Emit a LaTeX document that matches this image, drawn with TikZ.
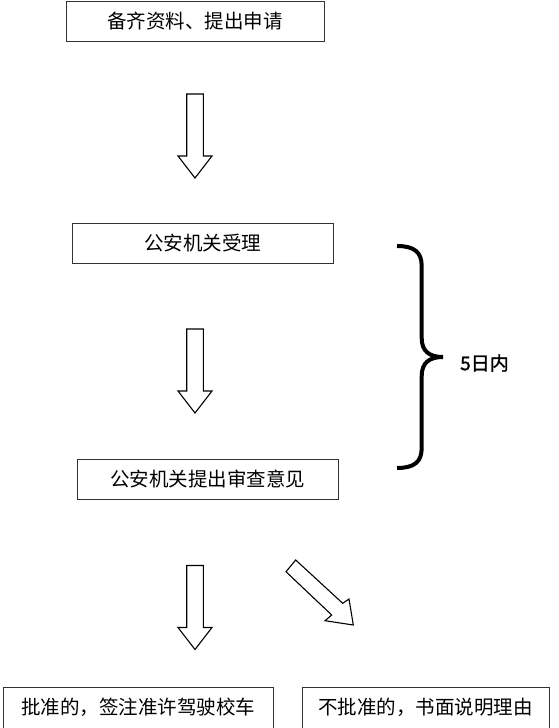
\documentclass[tikz,border=0pt]{standalone}
\usepackage{fontspec}
\setmainfont{Noto Sans CJK SC}
\newfontfamily\daysfont[FakeBold=1.3]{Noto Sans CJK SC}
\begin{document}
\begin{tikzpicture}[x=1pt,y=-1pt,
  stepbox/.style={draw=black!80,line width=0.9pt,inner sep=0pt,minimum height=40pt,
    font=\fontsize{19.5}{22}\selectfont},
  blockarrow/.style={draw=black,line width=1.1pt,fill=white,line join=miter},
  downarrow/.pic={\draw[blockarrow] (-8.3,0) -- (8.3,0) -- (8.3,62) -- (17,62) -- (0,84) -- (-17,62) -- (-8.3,62) -- cycle;},
  bracestyle/.style={draw=black,line width=4pt}
]
\useasboundingbox (0,0) rectangle (558,728);
\node[stepbox,minimum width=258pt] (b1) at (195,21) {备齐资料、提出申请};
\node[stepbox,minimum width=261pt] (b2) at (202.5,243.3) {公安机关受理};
\node[stepbox,minimum width=261pt] (b3) at (207.8,479.3) {公安机关提出审查意见};
\node[stepbox,minimum width=270pt,minimum height=41pt] (b4) at (138,707.5) {批准的，签注准许驾驶校车};
\node[stepbox,minimum width=247pt,minimum height=41pt] (b5) at (425.5,707.5) {不批准的，书面说明理由};
\pic at (195,94) {downarrow};
\pic at (195,329) {downarrow};
\pic at (195,565.5) {downarrow};
\draw[blockarrow] (295.7,560) -- (342.7,603.3) -- (349,599) -- (353.3,625) -- (325,620.7) -- (331.7,615) -- (286,571.7) -- cycle;
\coordinate (brtop) at (397,246);
\coordinate (brtip) at (443,357);
\coordinate (brbot) at (397,468);
\draw[bracestyle] (brtop) .. controls (414,246) and (421.7,252) .. (421.7,266) -- (421.7,338)
  .. controls (421.7,351) and (429,357) .. (brtip)
  .. controls (429,357) and (421.7,363) .. (421.7,376) -- (421.7,448)
  .. controls (421.7,462) and (414,468) .. (brbot);
\node[font=\daysfont\fontsize{19}{21}\selectfont,anchor=west,inner sep=0pt] (days) at (460,363) {5日内};
\end{tikzpicture}
\end{document}
